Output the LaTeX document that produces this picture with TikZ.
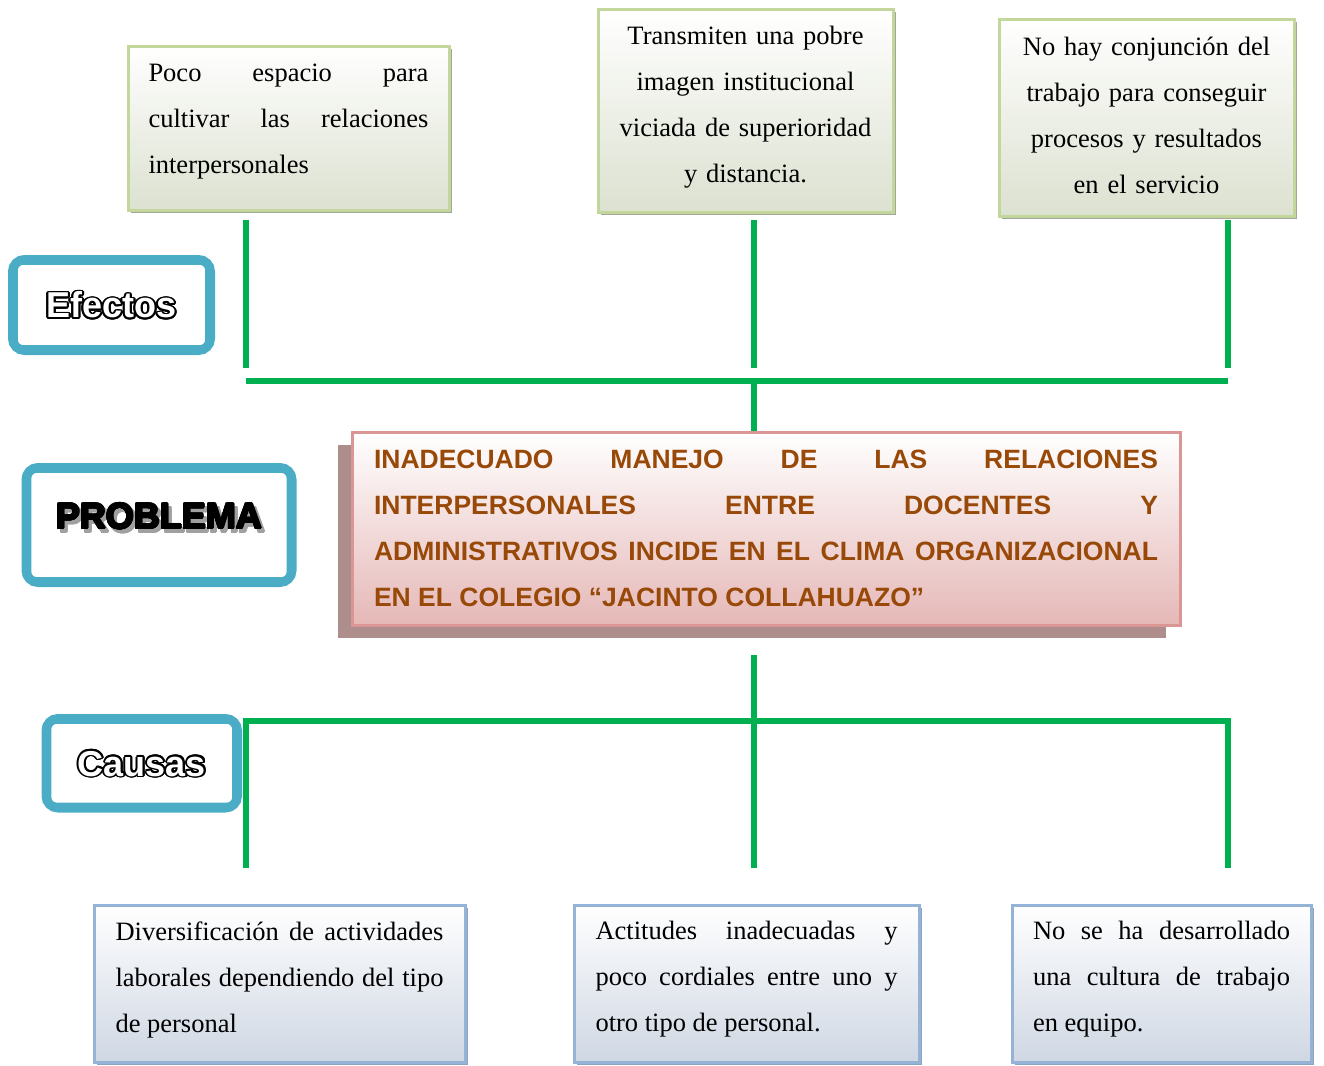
\documentclass[tikz,border=0pt]{standalone}
\usepackage{fontspec}
\setmainfont{Liberation Serif}
\newfontfamily\arialfont{Liberation Sans}
\usepackage{xcolor}
\usepackage[copies]{contour}
\usepackage{tikz}
\usetikzlibrary{shadows}

\definecolor{linkgreen}{HTML}{00B050}
\definecolor{tagblue}{HTML}{4BACC6}
\definecolor{effline}{HTML}{C3D69B}
\definecolor{efffill}{HTML}{DCE1D0}
\definecolor{effshadow}{HTML}{A3A798}
\definecolor{causeline}{HTML}{95B3D7}
\definecolor{causefill}{HTML}{CFD7E3}
\definecolor{causeshadow}{HTML}{8FA3C0}
\definecolor{probline}{HTML}{D99694}
\definecolor{probfill}{HTML}{E5B8B7}
\definecolor{probshadow}{HTML}{AE8E8D}
\definecolor{probtext}{HTML}{984807}
\definecolor{tagshade}{HTML}{A0A0A0}

% outlined and heavy label texts
\newcommand{\hollow}[1]{{\contourlength{0.9pt}\contour{black}{\textcolor{white}{#1}}}}
\newcommand{\heavy}[1]{\rlap{\hspace{1.6pt}\raisebox{-1.6pt}{{\contourlength{0.5pt}\contour{tagshade}{\textcolor{tagshade}{#1}}}}}{\contourlength{0.5pt}\contour{black}{#1}}}
% room under the last line
\newcommand{\under}[1]{\par\kern#1\relax}

\tikzset{
  link/.style={draw=linkgreen, line width=3pt},
  tag/.style={draw=tagblue, line width=4.5pt, rounded corners=6pt, fill=white,
    font=\arialfont\bfseries\fontsize{18}{20}\selectfont, text height=12.9pt, text depth=0pt},
  effect/.style={draw=effline, line width=1.5pt, top color=white, bottom color=efffill,
    general shadow={fill=effshadow, shadow xshift=1.5pt, shadow yshift=-1.5pt},
    font=\fontsize{13.25}{23}\selectfont, inner sep=0pt},
  cause/.style={draw=causeline, line width=1.5pt, top color=white, bottom color=causefill,
    general shadow={fill=causeshadow, shadow xshift=1.5pt, shadow yshift=-1.5pt},
    font=\fontsize{13.25}{23}\selectfont, inner sep=0pt, minimum height=78.5pt, align=justify},
  problem/.style={draw=probline, line width=1.5pt, top color=white, bottom color=probfill,
    general shadow={fill=probshadow, shadow xshift=-7pt, shadow yshift=-6.5pt},
    font=\arialfont\bfseries\fontsize{13.25}{23}\selectfont, text=probtext, inner sep=0pt}
}

\begin{document}
\begin{tikzpicture}[x=0.5pt,y=-0.5pt]
\useasboundingbox (0,0) rectangle (1324,1066);

%effects
\node[effect, minimum width=160.5pt, minimum height=82pt, text width=140pt, align=justify] (eff1) at (288.5,128)
  {Poco espacio para\linebreak cultivar las relaciones\linebreak interpersonales\under{6.9pt}};
\node[effect, minimum width=147.5pt, minimum height=101.5pt, text width=135pt, align=center] (eff2) at (745.5,110.5)
  {Transmiten una pobre\\ imagen institucional\\ viciada de superioridad\\ y distancia.\under{3.4pt}};
\node[effect, minimum width=147.5pt, minimum height=98.5pt, text width=135pt, align=center] (eff3) at (1146.5,117.5)
  {No hay conjunción del\\ trabajo para conseguir\\ procesos y resultados\\ en el servicio\under{2.5pt}};

\coordinate (e1a) at (246,220);  \coordinate (e1b) at (246,368);
\coordinate (e2a) at (754,220);  \coordinate (e2b) at (754,368);
\coordinate (e3a) at (1228,220); \coordinate (e3b) at (1228,368);
\foreach \i in {1,2,3}
  \draw[link] (e\i a) -- (e\i b);

\coordinate (ew) at (246,380.5);
\coordinate (em) at (754,380.5);
\coordinate (ee) at (1228,380.5);
\draw[link] (ew) -- (ee);

%problem
\node[problem, minimum width=414pt, minimum height=96.5pt, text width=392pt, align=justify] (prob) at (766,528.5)
  {INADECUADO MANEJO DE LAS RELACIONES\linebreak INTERPERSONALES ENTRE DOCENTES Y\linebreak ADMINISTRATIVOS INCIDE EN EL CLIMA ORGANIZACIONAL\linebreak EN EL COLEGIO “JACINTO COLLAHUAZO”};
\draw[link] (em) -- (em |- prob.north);

%causes
\coordinate (ct) at (754,655);
\coordinate (cm) at (754,720.5);
\coordinate (c1) at (246,868);
\coordinate (c2) at (754,868);
\coordinate (c3) at (1228,868);
\draw[link] (c1) |- (cm) -| (c3);
\draw[link] (ct) -- (c2);

\node[cause, minimum width=185.5pt, text width=164pt] (cau1) at (279.5,983.5)
  {Diversificación de actividades\linebreak laborales dependiendo del tipo\linebreak de personal\under{3.9pt}};
\node[cause, minimum width=172.5pt, text width=151pt] (cau2) at (746.5,983.5)
  {Actitudes inadecuadas y\linebreak poco cordiales entre uno y\linebreak otro tipo de personal.\under{3.9pt}};
\node[cause, minimum width=149.5pt, text width=128.5pt] (cau3) at (1161.5,983.5)
  {No se ha desarrollado\linebreak una cultura de trabajo\linebreak en equipo.\under{3.9pt}};

%labels
\node[tag, minimum width=99pt, minimum height=45.5pt] (efectos) at (111.5,305) {\hollow{Efectos}};
\node[tag, minimum width=133pt, minimum height=57.5pt, text depth=9pt] (problema) at (159,525) {\heavy{PROBLEMA}};
\node[tag, minimum width=95.75pt, minimum height=44.75pt] (causas) at (141.75,763.25) {\hollow{Causas}};
\foreach \t in {efectos,problema,causas}
  \draw[tagblue, line width=1.1pt, rounded corners=3pt]
    ([shift={(4.4pt,-4.4pt)}]\t.north west) rectangle ([shift={(-4.4pt,4.4pt)}]\t.south east);

\end{tikzpicture}
\end{document}
